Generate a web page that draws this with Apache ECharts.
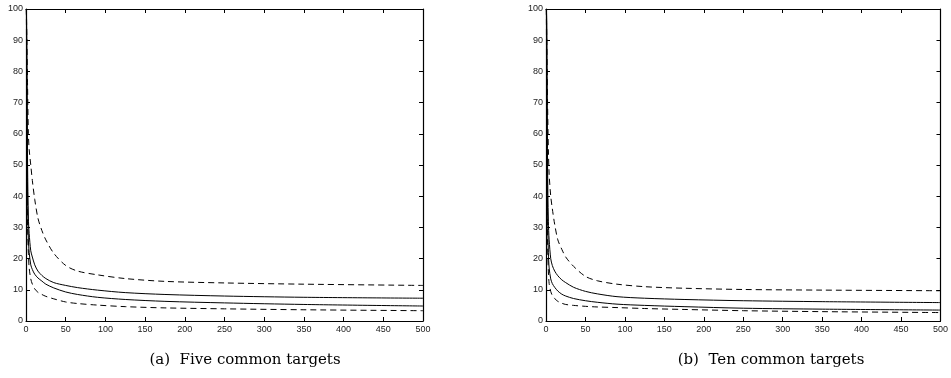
<!DOCTYPE html>
<html><head><meta charset="utf-8">
<script src="https://cdn.jsdelivr.net/npm/echarts@6/dist/echarts.min.js"></script>
<style>html,body{margin:0;padding:0;background:#fff}#c{width:951px;height:378px}</style>
</head><body><div id="c"></div>
<script>
// shared x positions for every curve
const xs = [0.5, 1, 2, 3, 4, 6, 8, 11, 15, 20, 25, 35, 50, 65, 90, 125, 175, 250, 350, 500];

// (a) Five common targets
const aUpperDashed = [100, 100, 75, 60, 55, 50, 45, 39, 33, 29, 26, 21.7, 17.8, 16.0, 14.8, 13.6, 12.7, 12.2, 11.8, 11.4];
const aUpperSolid  = [100, 90, 50, 33, 28, 22.5, 20.5, 18, 16, 14.6, 13.6, 12.3, 11.4, 10.7, 9.9, 9.1, 8.5, 8.0, 7.6, 7.3];
const aLowerSolid  = [100, 80, 40, 26, 22, 18, 16.5, 15, 13.8, 12.8, 11.8, 10.6, 9.3, 8.5, 7.6, 6.9, 6.3, 5.8, 5.3, 4.8];
const aLowerDashed = [100, 60, 30, 21.7, 17, 13.5, 11.8, 10.3, 9.2, 8.5, 7.9, 7.1, 6.1, 5.6, 5.1, 4.6, 4.2, 3.9, 3.6, 3.3];

// (b) Ten common targets
const bUpperDashed = [100, 100, 70, 55, 47, 40, 36, 31, 26, 23, 20.5, 17.5, 14.3, 12.9, 11.8, 11.0, 10.5, 10.1, 9.9, 9.7];
const bUpperSolid  = [100, 95, 50, 32, 26, 20, 17.8, 16, 14.5, 13.2, 12.3, 10.8, 9.5, 8.7, 7.8, 7.3, 6.9, 6.5, 6.2, 5.9];
const bLowerSolid  = [100, 80, 35, 22, 17, 13.5, 12, 10.8, 9.6, 8.6, 8.0, 7.2, 6.5, 6.0, 5.4, 5.0, 4.6, 4.1, 3.8, 3.5];
const bLowerDashed = [100, 55, 25, 16, 12, 9.5, 8.2, 7.2, 6.3, 5.7, 5.3, 5.0, 4.7, 4.5, 4.3, 4.0, 3.7, 3.3, 3.0, 2.7];

const captions = ['(a)  Five common targets', '(b)  Ten common targets'];
const xTicks = [0, 50, 100, 150, 200, 250, 300, 350, 400, 450, 500];
const yTicks = [0, 10, 20, 30, 40, 50, 60, 70, 80, 90, 100];

const chart = echarts.init(document.getElementById('c'), null, {renderer: 'canvas'});
const lab = {fontFamily: 'Liberation Sans, Arial, sans-serif', fontSize: 9, color: '#222'};
const axLine = {show: true, onZero: false, lineStyle: {color: '#000', width: 1.2}};
const tick = {show: true, inside: true, length: 4, lineStyle: {color: '#000', width: 1}};

const grids = [
  {left: 26, right: 528, top: 9, bottom: 57},
  {left: 546, right: 8, top: 9, bottom: 57}
];
const xAxis = [], yAxis = [], series = [];
const sets = [[aUpperDashed, aUpperSolid, aLowerSolid, aLowerDashed], [bUpperDashed, bUpperSolid, bLowerSolid, bLowerDashed]];
grids.forEach((g, i) => {
  xAxis.push({type: 'value', gridIndex: i, min: xTicks[0], max: xTicks[xTicks.length-1], interval: 50, position: 'bottom',
    axisLine: axLine, axisTick: tick, splitLine: {show: false}, axisLabel: Object.assign({margin: 4}, lab)});
  xAxis.push({type: 'value', gridIndex: i, min: 0, max: 500, interval: 50, position: 'top',
    axisLine: axLine, axisTick: tick, splitLine: {show: false}, axisLabel: {show: false}});
  yAxis.push({type: 'value', gridIndex: i, min: yTicks[0], max: yTicks[yTicks.length-1], interval: 10, position: 'left',
    axisLine: axLine, axisTick: tick, splitLine: {show: false}, axisLabel: Object.assign({margin: 3}, lab)});
  yAxis.push({type: 'value', gridIndex: i, min: 0, max: 100, interval: 10, position: 'right',
    axisLine: axLine, axisTick: tick, splitLine: {show: false}, axisLabel: {show: false}});
  const styles = ['dashed', 'solid', 'solid', 'dashed'];
  sets[i].forEach((arr, k) => {
    series.push({type: 'line', xAxisIndex: 2*i, yAxisIndex: 2*i, symbol: 'none', silent: true, clip: true,
      data: xs.map((x, j) => [x, arr[j]]), smooth: 0.3,
      lineStyle: {color: '#000', width: 1, type: styles[k] === 'dashed' ? [6, 4] : 'solid'}});
  });
});

const capStyle = {fontFamily: 'DejaVu Serif, serif', fontSize: 15, fontWeight: 'normal', color: '#000'};
chart.setOption({
  animation: false,
  grid: grids,
  xAxis, yAxis, series,
  title: [
    {text: captions[0], left: 240, top: 348, textAlign: 'center', textStyle: capStyle},
    {text: captions[1], left: 766, top: 348, textAlign: 'center', textStyle: capStyle}
  ]
});
</script></body></html>
